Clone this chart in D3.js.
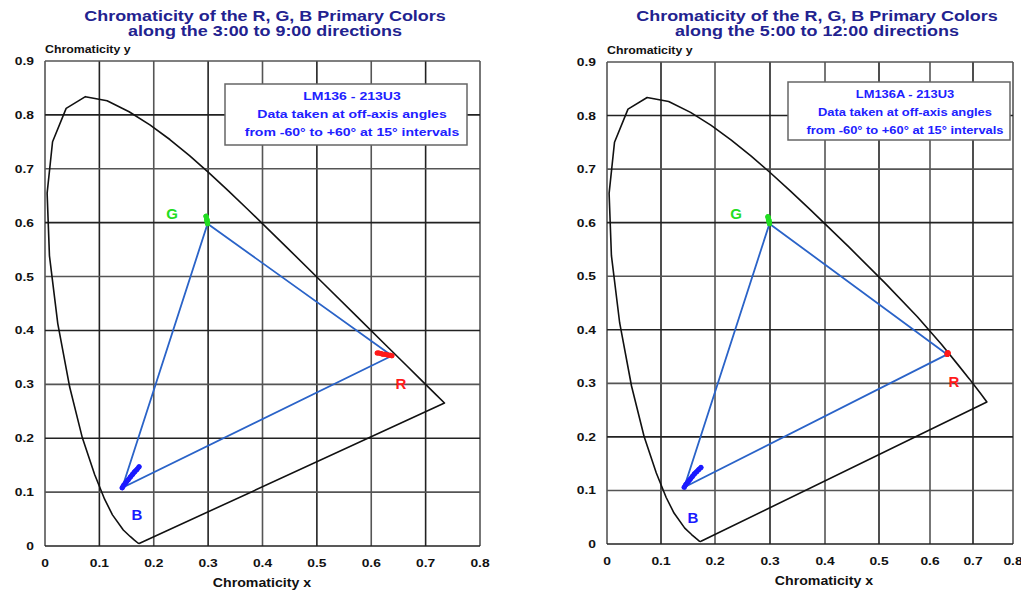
<!DOCTYPE html>
<html>
<head>
<meta charset="utf-8">
<script src="https://cdn.jsdelivr.net/npm/d3@7"></script>
<style>
    body { margin: 0; background: #fff; }
    text { font-family: "Liberation Sans", Arial, sans-serif; font-weight: bold; }
</style>
</head>
<body>
<div id="chart"></div>
<script>
// CIE 1931 spectral locus (x, y), from 380nm to 700nm
const locusX = [0.1741, 0.1733, 0.1714, 0.1644, 0.1566, 0.1440, 0.1241, 0.1096, 0.0913, 0.0687, 0.0454, 0.0235, 0.0082, 0.0039, 0.0139, 0.0389, 0.0743, 0.1142, 0.1547, 0.1929, 0.2296, 0.2658, 0.3016, 0.3373, 0.3731, 0.4441, 0.5125, 0.5752, 0.6270, 0.6658, 0.6915, 0.7190, 0.7347];
const locusY = [0.0050, 0.0048, 0.0051, 0.0109, 0.0177, 0.0297, 0.0578, 0.0868, 0.1327, 0.2007, 0.2950, 0.4127, 0.5384, 0.6548, 0.7502, 0.8120, 0.8338, 0.8262, 0.8059, 0.7816, 0.7543, 0.7243, 0.6923, 0.6589, 0.6245, 0.5547, 0.4866, 0.4242, 0.3725, 0.3340, 0.3083, 0.2809, 0.2653];

const xTicks = [0, 0.1, 0.2, 0.3, 0.4, 0.5, 0.6, 0.7, 0.8];
const yTicks = [0, 0.1, 0.2, 0.3, 0.4, 0.5, 0.6, 0.7, 0.8, 0.9];
const angles = [-60, -45, -30, -15, 0, 15, 30, 45, 60];

// measured primaries, one point per off-axis angle (first point is the triangle corner)
const leftR = [[0.638, 0.353], [0.635, 0.354], [0.632, 0.354], [0.628, 0.355], [0.625, 0.356], [0.621, 0.356], [0.618, 0.357], [0.614, 0.358], [0.611, 0.358]];
const leftG = [[0.299, 0.598], [0.299, 0.600], [0.298, 0.602], [0.298, 0.604], [0.298, 0.606], [0.297, 0.607], [0.297, 0.609], [0.297, 0.610], [0.296, 0.612]];
const leftB = [[0.142, 0.108], [0.145, 0.113], [0.149, 0.118], [0.153, 0.123], [0.157, 0.128], [0.161, 0.133], [0.165, 0.138], [0.169, 0.142], [0.173, 0.147]];

const rightR = [[0.640, 0.354], [0.640, 0.355], [0.641, 0.355], [0.641, 0.356], [0.642, 0.356], [0.642, 0.357], [0.641, 0.357], [0.640, 0.356], [0.640, 0.355]];
const rightG = [[0.299, 0.598], [0.299, 0.600], [0.298, 0.602], [0.298, 0.604], [0.298, 0.605], [0.297, 0.607], [0.297, 0.608], [0.297, 0.610], [0.296, 0.611]];
const rightB = [[0.143, 0.106], [0.146, 0.111], [0.150, 0.116], [0.154, 0.121], [0.158, 0.126], [0.162, 0.131], [0.166, 0.135], [0.170, 0.139], [0.174, 0.143]];

const leftTitle = ["Chromaticity of the R, G, B Primary Colors", "along the 3:00 to 9:00 directions"];
const rightTitle = ["Chromaticity of the R, G, B Primary Colors", "along the 5:00 to 12:00 directions"];
const leftNote = ["LM136 - 213U3", "Data taken at off-axis angles", "from -60\u00b0 to +60\u00b0 at 15\u00b0 intervals"];
const rightNote = ["LM136A - 213U3", "Data taken at off-axis angles", "from -60\u00b0 to +60\u00b0 at 15\u00b0 intervals"];

// widen the text a bit, the scanned chart uses a wide heavy face
function stretch(sel, k) {
    sel.each(function () {
        let w = this.getComputedTextLength();
        d3.select(this).attr("textLength", w * k).attr("lengthAdjust", "spacingAndGlyphs");
    });
}

class ChromaticityChart {
    constructor(svg, configs) {
        this.svg = svg;
        this.config = configs;
        this.g = svg.append("g");
        this.x = d3.scaleLinear().domain(configs.xDomain).range(configs.xRange);
        this.y = d3.scaleLinear().domain([0, 0.9]).range(configs.yRange);
        this.drawGrid();
        this.drawTitles();
        this.drawLocus();
        this.drawTriangle();
        this.drawNote();
    }

    drawGrid() {
        let x = this.x, y = this.y;
        let [y0, y1] = this.config.yRange;
        let x0 = x(0), x1 = x(0.8);
        this.g.selectAll(".vgrid").data(xTicks).enter().append("line")
            .attr("x1", d => x(d)).attr("x2", d => x(d))
            .attr("y1", y0).attr("y2", y1)
            .attr("stroke", (d, i) => i % 2 ? "#222" : "#555")
            .attr("stroke-width", 1.6);
        this.g.selectAll(".hgrid").data(yTicks).enter().append("line")
            .attr("y1", d => y(d)).attr("y2", d => y(d))
            .attr("x1", x0).attr("x2", x1)
            .attr("stroke", (d, i) => i % 2 ? "#555" : "#222")
            .attr("stroke-width", 1.6);

        let xl = this.g.selectAll(".xlab").data(xTicks).enter().append("text")
            .attr("x", d => x(d)).attr("y", y0 + 21)
            .attr("text-anchor", "middle")
            .attr("font-size", 11.5).attr("fill", "#111")
            .text(d => d);
        stretch(xl, 1.2);
        let yl = this.g.selectAll(".ylab").data(yTicks).enter().append("text")
            .attr("x", x0 - 11).attr("y", d => y(d)).attr("dy", "0.35em")
            .attr("text-anchor", "end")
            .attr("font-size", 11.5).attr("fill", "#111")
            .text(d => d);
        stretch(yl, 1.2);

        let ya = this.g.append("text")
            .attr("x", x0).attr("y", y1 - 8)
            .attr("font-size", 11).attr("fill", "#111")
            .text("Chromaticity y");
        stretch(ya, 1.12);
        let xa = this.g.append("text")
            .attr("x", this.config.xLabelAt).attr("y", y0 + 41)
            .attr("text-anchor", "middle")
            .attr("font-size", 12).attr("fill", "#111")
            .text("Chromaticity x");
        stretch(xa, 1.18);
    }

    drawTitles() {
        let t = this.g.selectAll(".title").data(this.config.title).enter().append("text")
            .attr("x", this.config.titleAt)
            .attr("y", (d, i) => 21 + i * 15)
            .attr("text-anchor", "middle")
            .attr("font-size", 14).attr("fill", "#22228f")
            .text(d => d);
        stretch(t, 1.28);
    }

    drawLocus() {
        let pts = locusX.map((d, i) => [d, locusY[i]]);
        pts.push(pts[0]);
        let line = d3.line().x(d => this.x(d[0])).y(d => this.y(d[1]));
        this.g.append("path")
            .attr("d", line(pts))
            .attr("fill", "none")
            .attr("stroke", "#111")
            .attr("stroke-width", 1.6)
            .attr("stroke-linejoin", "round");
    }

    drawTriangle() {
        let c = this.config;
        let line = d3.line().x(d => this.x(d[0])).y(d => this.y(d[1]));
        let tri = [c.R[0], c.G[0], c.B[0], c.R[0]];
        this.g.append("path")
            .attr("d", line(tri))
            .attr("fill", "none")
            .attr("stroke", "#2a63c8")
            .attr("stroke-width", 1.8);

        let sets = [[c.R, "#ff1a1a"], [c.G, "#22dd22"], [c.B, "#1a1aff"]];
        sets.forEach(([pts, color]) => {
            this.g.append("path")
                .attr("d", line(pts))
                .attr("fill", "none")
                .attr("stroke", color)
                .attr("stroke-width", 5)
                .attr("stroke-linecap", "round")
                .attr("stroke-linejoin", "round");
            this.g.selectAll(null).data(pts).enter().append("circle")
                .attr("cx", d => this.x(d[0])).attr("cy", d => this.y(d[1]))
                .attr("r", 2.5).attr("fill", color);
        });

        // primary labels
        let labels = [["R", c.labelR, "#ff1a1a"], ["G", c.labelG, "#22dd22"], ["B", c.labelB, "#1a1aff"]];
        labels.forEach(([t, p, color]) => {
            this.g.append("text")
                .attr("x", p[0]).attr("y", p[1])
                .attr("text-anchor", "middle")
                .attr("font-size", 15).attr("fill", color)
                .text(t);
        });
    }

    drawNote() {
        let b = this.config.noteBox;
        this.g.append("rect")
            .attr("x", b[0]).attr("y", b[1])
            .attr("width", b[2]).attr("height", b[3])
            .attr("fill", "#fff")
            .attr("stroke", "#666")
            .attr("stroke-width", 1.5);
        let t = this.g.selectAll(".note").data(this.config.note).enter().append("text")
            .attr("x", b[0] + b[2] / 2 + 6)
            .attr("y", (d, i) => b[1] + 16 + i * 18)
            .attr("text-anchor", "middle")
            .attr("font-size", 11.5).attr("fill", "#2020ff")
            .text(d => d);
        stretch(t, this.config.noteStretch);
    }
}

const svg = d3.select("#chart").append("svg")
    .attr("width", 1021).attr("height", 592);

new ChromaticityChart(svg, {
    xDomain: [0, 0.8], xRange: [45, 480], yRange: [546, 61],
    title: leftTitle, titleAt: 265, xLabelAt: 262,
    note: leftNote, noteBox: [225, 84, 242, 61], noteStretch: 1.22,
    R: leftR, G: leftG, B: leftB,
    labelR: [401, 389], labelG: [172, 219], labelB: [137, 520]
});

new ChromaticityChart(svg, {
    xDomain: xTicks, xRange: [607, 661, 715, 770, 825, 879, 930, 973, 1013], yRange: [544, 62],
    title: rightTitle, titleAt: 817, xLabelAt: 824,
    note: rightNote, noteBox: [788, 82, 222, 58], noteStretch: 1.12,
    R: rightR, G: rightG, B: rightB,
    labelR: [954, 387], labelG: [736, 219], labelB: [693, 523]
});
</script>
</body>
</html>
